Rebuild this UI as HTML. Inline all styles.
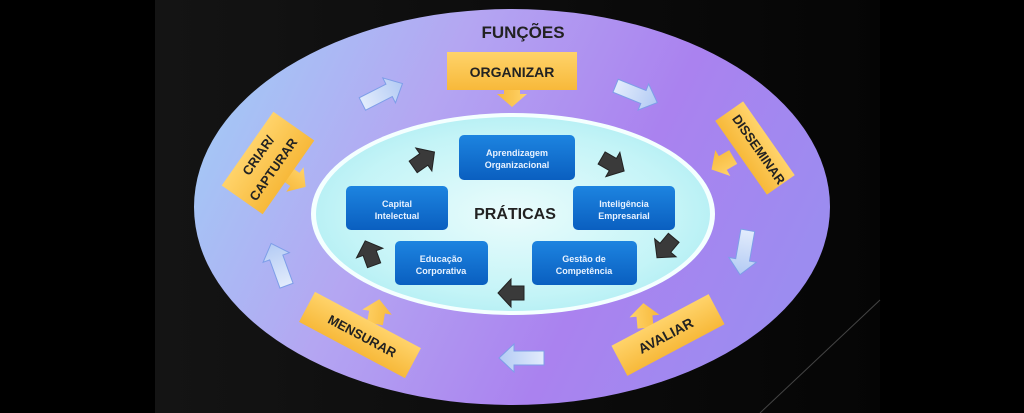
<!DOCTYPE html>
<html><head><meta charset="utf-8"><style>
html,body{margin:0;padding:0;background:#000;width:1024px;height:413px;overflow:hidden}
svg{display:block}
text{font-family:"Liberation Sans",sans-serif;font-weight:bold}
</style></head><body>
<svg width="1024" height="413" viewBox="0 0 1024 413" xmlns="http://www.w3.org/2000/svg">
<defs>
<linearGradient id="bg" x1="0" y1="0" x2="1" y2="0">
<stop offset="0" stop-color="#141414"/><stop offset="1" stop-color="#050505"/></linearGradient>
<linearGradient id="outer" x1="0" y1="0.2" x2="1" y2="0.5">
<stop offset="0" stop-color="#a2cbf6"/><stop offset="0.35" stop-color="#b4a6f2"/><stop offset="0.7" stop-color="#aa82ef"/><stop offset="1" stop-color="#9c8cf0"/></linearGradient>
<radialGradient id="inner" cx="0.5" cy="0.5" r="0.6">
<stop offset="0" stop-color="#eafcfc"/><stop offset="0.7" stop-color="#c4f4f7"/><stop offset="1" stop-color="#acecf2"/></radialGradient>
<linearGradient id="blue" x1="0" y1="0" x2="0" y2="1">
<stop offset="0" stop-color="#1d84e0"/><stop offset="1" stop-color="#0a5fc0"/></linearGradient>
<linearGradient id="yel" x1="0" y1="0" x2="0" y2="1">
<stop offset="0" stop-color="#ffd36a"/><stop offset="1" stop-color="#f7b93a"/></linearGradient>
<linearGradient id="la" x1="0" y1="0" x2="1" y2="0">
<stop offset="0" stop-color="#e2ecfc"/><stop offset="1" stop-color="#b3cbf4"/></linearGradient>
<path id="ar" d="M-22,-7 L8,-7 L8,-14 L23,0 L8,14 L8,7 L-22,7 Z"/>
<path id="da" d="M-12,-7 L1,-7 L1,-14 L14,0 L1,14 L1,7 L-12,7 Z"/>
<path id="ya" d="M-6,-8 L6,-8 L6,-15 L19,0 L6,15 L6,8 L-6,8 Z"/>
</defs>
<rect x="0" y="0" width="1024" height="413" fill="#000"/>
<polygon points="155,0 880,0 880,413 155,413" fill="url(#bg)"/>
<line x1="760" y1="413" x2="880" y2="300" stroke="#444" stroke-width="1"/>
<ellipse cx="512" cy="207" rx="318" ry="198" fill="url(#outer)"/>
<ellipse cx="513" cy="214" rx="202" ry="101" fill="#f4ffff"/>
<ellipse cx="513" cy="214" rx="197" ry="97" fill="url(#inner)"/>
<text x="523" y="38" font-size="17" text-anchor="middle" fill="#222">FUNÇÕES</text>
<text x="515" y="219" font-size="16" text-anchor="middle" fill="#222">PRÁTICAS</text>
<g fill="url(#la)" stroke="#7e9ee8" stroke-width="1">
<use href="#ar" transform="translate(382,94) rotate(-27)"/>
<use href="#ar" transform="translate(636,94) rotate(22)"/>
<use href="#ar" transform="translate(744,252) rotate(100)"/>
<use href="#ar" transform="translate(522,358) rotate(180)"/>
<use href="#ar" transform="translate(279,265) rotate(-110)"/>
</g>
<g fill="#3a3a3a" stroke="#222" stroke-width="1">
<use href="#da" transform="translate(423,160) rotate(-35)"/>
<use href="#da" transform="translate(612,164) rotate(30)"/>
<use href="#da" transform="translate(666,247) rotate(130)"/>
<use href="#da" transform="translate(512,293) rotate(180)"/>
<use href="#da" transform="translate(370,254) rotate(-110)"/>
</g>
<g fill="url(#blue)">
<rect x="459" y="135" width="116" height="45" rx="5"/>
<rect x="346" y="186" width="102" height="44" rx="5"/>
<rect x="573" y="186" width="102" height="44" rx="5"/>
<rect x="395" y="241" width="93" height="44" rx="5"/>
<rect x="532" y="241" width="105" height="44" rx="5"/>
</g>
<g fill="#e8f2ff" font-size="9" text-anchor="middle">
<text x="517" y="156">Aprendizagem</text><text x="517" y="168">Organizacional</text>
<text x="397" y="207">Capital</text><text x="397" y="219">Intelectual</text>
<text x="624" y="207">Inteligência</text><text x="624" y="219">Empresarial</text>
<text x="441" y="262">Educação</text><text x="441" y="274">Corporativa</text>
<text x="584" y="262">Gestão de</text><text x="584" y="274">Competência</text>
</g>
<g fill="url(#yel)">
<use href="#ya" transform="translate(512,88) rotate(90)"/>
<rect x="447" y="52" width="130" height="38"/>
<use href="#ya" transform="translate(728,160) rotate(150)"/>
<rect x="-45" y="-17" width="90" height="34" transform="translate(755,148) rotate(55)"/>
<use href="#ya" transform="translate(290,176) rotate(35)"/>
<rect x="-45" y="-25" width="90" height="50" transform="translate(268,163) rotate(-55)"/>
<use href="#ya" transform="translate(376,318) rotate(-80)"/>
<rect x="-60" y="-17" width="120" height="34" transform="translate(360,335) rotate(28)"/>
<use href="#ya" transform="translate(645,322) rotate(-95)"/>
<rect x="-55" y="-17" width="110" height="34" transform="translate(668,335) rotate(-28)"/>
</g>
<g fill="#222" font-size="14" text-anchor="middle">
<text x="512" y="77">ORGANIZAR</text>
<text transform="translate(755,152) rotate(55)" font-size="13">DISSEMINAR</text>
<text transform="translate(262,158) rotate(-55)" font-size="13">CRIAR/</text>
<text transform="translate(277,172) rotate(-55)" font-size="13">CAPTURAR</text>
<text transform="translate(360,340) rotate(28)" font-size="13">MENSURAR</text>
<text transform="translate(668,340) rotate(-28)" font-size="14">AVALIAR</text>
</g>
</svg>
</body></html>
